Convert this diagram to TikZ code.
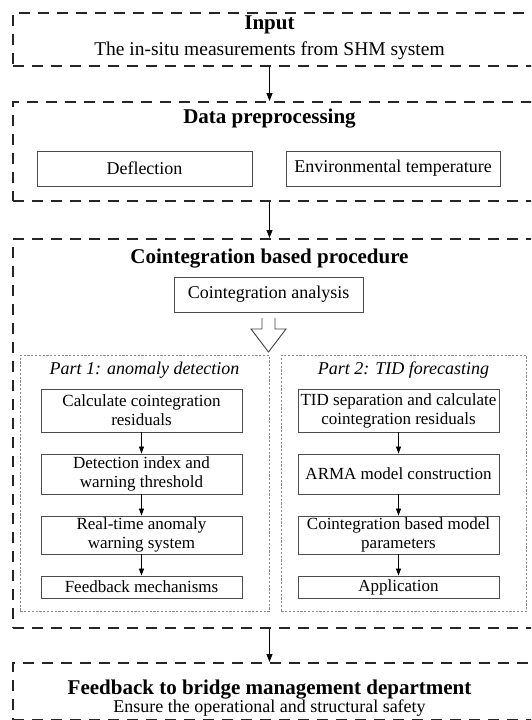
\documentclass[tikz,border=0pt]{standalone}
\usepackage{fontspec}
\setmainfont{Liberation Serif}
\usetikzlibrary{arrows.meta}
\begin{document}
\begin{tikzpicture}[x=1pt,y=-1pt]
\tikzset{
 outerbox/.style={draw=black!85, line width=1.5pt, dash pattern=on 11pt off 8pt, anchor=north west, inner sep=0pt},
 partbox/.style={draw=black!45, line width=0.9pt, dash pattern=on 2.2pt off 1.6pt, anchor=north west, inner sep=0pt},
 stepbox/.style={draw=black!70, line width=0.9pt, inner sep=0pt, align=center, font=\fontsize{18}{19}\selectfont},
 smallstep/.style={stepbox, font=\fontsize{17}{19}\selectfont},
 ttl/.style={font=\bfseries\fontsize{21}{24}\selectfont, anchor=base, inner sep=0pt},
 subttl/.style={font=\fontsize{18}{20}\selectfont, anchor=base, inner sep=0pt},
 parttl/.style={font=\itshape\fontsize{18}{20}\selectfont, anchor=base, inner sep=0pt},
 arr/.style={-{Triangle[width=6pt,length=8pt]}, line width=0.9pt},
 sarr/.style={-{Triangle[width=5pt,length=7pt]}, line width=0.8pt},
 hollow/.style={draw=black!75, line width=0.9pt, line join=miter},
}
\useasboundingbox (0,0) rectangle (531,720);
\clip (0,0) rectangle (531,720);

% outer dashed boxes
\node[outerbox, minimum width=533pt, minimum height=53pt] (input) at (12,12) {};
\node[outerbox, minimum width=533pt, minimum height=99pt] (prep) at (12,101) {};
\node[outerbox, minimum width=533pt, minimum height=389pt] (coint) at (12,238) {};
\node[outerbox, minimum width=533pt, minimum height=57pt] (fb) at (12,662) {};

% titles
\node[ttl] (inT) at (269.5,29.5) {Input};
\node[subttl, font=\fontsize{19.5}{21}\selectfont] (inS) at (269.5,55) {The in-situ measurements from SHM system};
\node[ttl] (prepT) at (269.5,123) {Data preprocessing};
\node[ttl] (cointT) at (269.5,263) {Cointegration based procedure};
\node[ttl] (fbT) at (269.5,694.5) {Feedback to bridge management department};
\node[subttl] (fbS) at (269.5,712) {Ensure the operational and structural safety};

% preprocessing boxes
\node[stepbox, minimum width=215pt, minimum height=35pt] (defl) at (144.5,168.5) {Deflection};
\node[stepbox, minimum width=214pt, minimum height=35pt] (env) at (393,168.5) {Environmental temperature};

% cointegration analysis
\node[stepbox, minimum width=189pt, minimum height=35pt] (ca) at (268.5,294.5) {Cointegration analysis};

% hollow arrow
\draw[hollow] (262,318) -- (262,329) -- (251,329) -- (268.5,352) -- (286,329) -- (275,329) -- (275,318);

% part boxes
\node[partbox, minimum width=249pt, minimum height=256pt] (p1) at (20,355) {};
\node[partbox, minimum width=245pt, minimum height=256pt] (p2) at (281,355) {};
\node[parttl] (p1T) at (144.5,374) {Part 1: anomaly detection};
\node[parttl] (p2T) at (403.5,374) {Part 2: TID forecasting};

% part 1 steps
\node[smallstep, minimum width=201pt, minimum height=43pt] (a1) at (141.5,410.5) {Calculate cointegration\\residuals};
\node[smallstep, minimum width=201pt, minimum height=40pt] (a2) at (141.5,474) {Detection index and\\warning threshold};
\node[smallstep, minimum width=201pt, minimum height=38pt] (a3) at (141.5,535) {Real-time anomaly\\warning system};
\node[smallstep, minimum width=201pt, minimum height=22pt] (a4) at (141.5,587) {Feedback mechanisms};

% part 2 steps
\node[smallstep, minimum width=201pt, minimum height=43pt] (b1) at (398.5,410.5) {TID separation and calculate\\cointegration residuals};
\node[smallstep, minimum width=201pt, minimum height=40pt] (b2) at (398.5,474) {ARMA model construction};
\node[smallstep, minimum width=201pt, minimum height=38pt] (b3) at (398.5,535) {Cointegration based model\\parameters};
\node[smallstep, minimum width=201pt, minimum height=22pt] (b4) at (398.5,587) {Application};

% connectors
\draw[arr] (input.south -| inT) -- (prep.north -| inT);
\draw[arr] (prep.south -| inT) -- (coint.north -| inT);
\draw[arr] (coint.south -| inT) -- (fb.north -| inT);
\draw[sarr] (a1) -- (a2);
\draw[sarr] (a2) -- (a3);
\draw[sarr] (a3) -- (a4);
\draw[sarr] (b1) -- (b2);
\draw[sarr] (b2) -- (b3);
\draw[sarr] (b3) -- (b4);
\end{tikzpicture}
\end{document}
